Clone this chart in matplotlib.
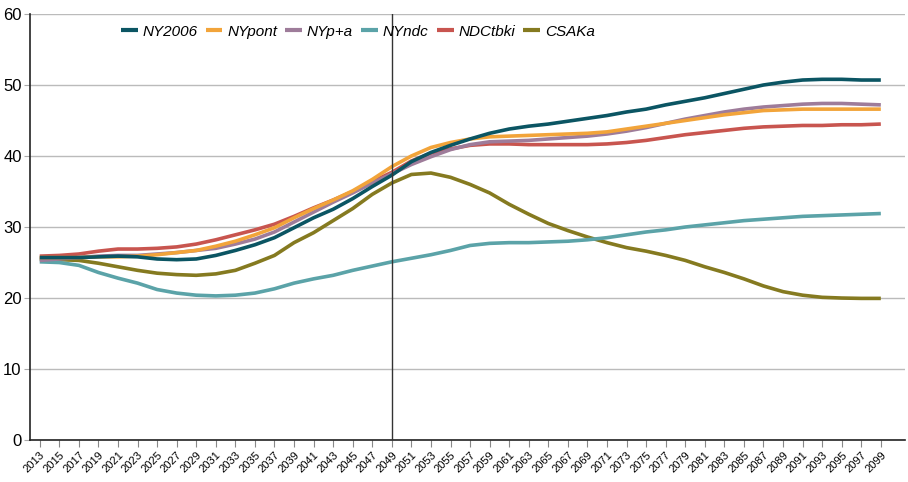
import matplotlib
matplotlib.use("Agg")
import matplotlib.pyplot as plt

plt.rcParams['font.family'] = ['Liberation Sans', 'DejaVu Sans']

# odd years shown on the axis
years = list(range(2013, 2100, 2))

ny2006 = [25.7, 25.7, 25.7, 25.8, 25.9, 25.8, 25.5, 25.4, 25.5, 26.0, 26.7, 27.5, 28.5, 29.9,
          31.3, 32.5, 34.0, 35.7, 37.3, 39.2, 40.5, 41.5, 42.4, 43.2, 43.8, 44.2, 44.5, 44.9,
          45.3, 45.7, 46.2, 46.6, 47.2, 47.7, 48.2, 48.8, 49.4, 50.0, 50.4, 50.7, 50.8, 50.8,
          50.7, 50.7]
nypont = [25.7, 25.7, 25.7, 25.8, 25.8, 25.9, 26.1, 26.4, 26.7, 27.3, 28.0, 28.9, 29.9, 31.3,
          32.6, 33.8, 35.1, 36.7, 38.5, 40.0, 41.2, 41.9, 42.4, 42.7, 42.8, 42.9, 43.0, 43.1,
          43.2, 43.4, 43.8, 44.2, 44.6, 45.0, 45.4, 45.8, 46.1, 46.4, 46.5, 46.6, 46.6, 46.6,
          46.6, 46.6]
nypa = [25.3, 25.5, 25.7, 25.9, 26.0, 26.0, 26.2, 26.4, 26.7, 27.0, 27.6, 28.3, 29.3, 30.7,
        32.1, 33.5, 34.8, 36.2, 37.5, 38.8, 39.9, 40.9, 41.6, 42.0, 42.1, 42.2, 42.4, 42.6,
        42.8, 43.1, 43.5, 44.0, 44.6, 45.2, 45.7, 46.2, 46.6, 46.9, 47.1, 47.3, 47.4, 47.4,
        47.3, 47.2]
nyndc = [25.1, 25.0, 24.6, 23.6, 22.8, 22.1, 21.2, 20.7, 20.4, 20.3, 20.4, 20.7, 21.3, 22.1,
         22.7, 23.2, 23.9, 24.5, 25.1, 25.6, 26.1, 26.7, 27.4, 27.7, 27.8, 27.8, 27.9, 28.0,
         28.2, 28.5, 28.9, 29.3, 29.6, 30.0, 30.3, 30.6, 30.9, 31.1, 31.3, 31.5, 31.6, 31.7,
         31.8, 31.9]
ndctbki = [25.9, 26.0, 26.2, 26.6, 26.9, 26.9, 27.0, 27.2, 27.6, 28.2, 28.9, 29.6, 30.4, 31.5,
           32.7, 33.8, 35.0, 36.4, 37.7, 39.3, 40.4, 41.0, 41.5, 41.7, 41.7, 41.6, 41.6, 41.6,
           41.6, 41.7, 41.9, 42.2, 42.6, 43.0, 43.3, 43.6, 43.9, 44.1, 44.2, 44.3, 44.3, 44.4,
           44.4, 44.5]
csaka = [25.5, 25.4, 25.3, 24.9, 24.4, 23.9, 23.5, 23.3, 23.2, 23.4, 23.9, 24.9, 26.0, 27.8,
         29.2, 30.9, 32.6, 34.6, 36.2, 37.4, 37.6, 37.0, 36.0, 34.8, 33.2, 31.8, 30.5, 29.5,
         28.6, 27.8, 27.1, 26.6, 26.0, 25.3, 24.4, 23.6, 22.7, 21.7, 20.9, 20.4, 20.1, 20.0,
         19.95, 19.95]

series = [
    ("NY2006", ny2006, "#0b5563", 6),
    ("NYpont", nypont, "#f2a43a", 5),
    ("NYp+a", nypa, "#9e7c9a", 4),
    ("NYndc", nyndc, "#5ba3a8", 2),
    ("NDCtbki", ndctbki, "#c8554f", 3),
    ("CSAKa", csaka, "#857a20", 1),
]

fig = plt.figure(figsize=(9.08, 4.82), dpi=100)
ax = fig.add_axes([0.033, 0.087, 0.964, 0.884])

for name, vals, col, z in series:
    ax.plot(years, vals, color=col, lw=2.6, label=name, zorder=z,
            solid_capstyle='butt')

ax.axvline(2049, color='#333333', lw=1, zorder=7)

ax.set_xlim(2012, 2101.5)
ax.set_ylim(0, 60)
ax.set_yticks(range(0, 61, 10))
ax.set_xticks(years)
ax.set_xticklabels([str(y) for y in years], rotation=45, ha='right',
                   rotation_mode='anchor', fontsize=8)
ax.tick_params(axis='y', labelsize=12, length=4, color='#aaaaaa', pad=2)
ax.tick_params(axis='x', length=5, color='#888888', pad=2)
ax.grid(axis='y', color='#bbbbbb', lw=1)
ax.set_axisbelow(True)
for s in ['top', 'right']:
    ax.spines[s].set_visible(False)
ax.spines['left'].set_color('#222222')
ax.spines['bottom'].set_color('#222222')
ax.spines['left'].set_linewidth(1.2)
ax.spines['bottom'].set_linewidth(1.2)

leg = fig.legend(loc='center left', bbox_to_anchor=(0.133, 0.934), ncol=6, frameon=False,
                 handlelength=1.1, handletextpad=0.3, columnspacing=0.55,
                 borderpad=0, borderaxespad=0,
                 prop={'style': 'italic', 'size': 11})
for h in leg.get_lines():
    h.set_linewidth(3)

fig.savefig("out.png", dpi=100)
